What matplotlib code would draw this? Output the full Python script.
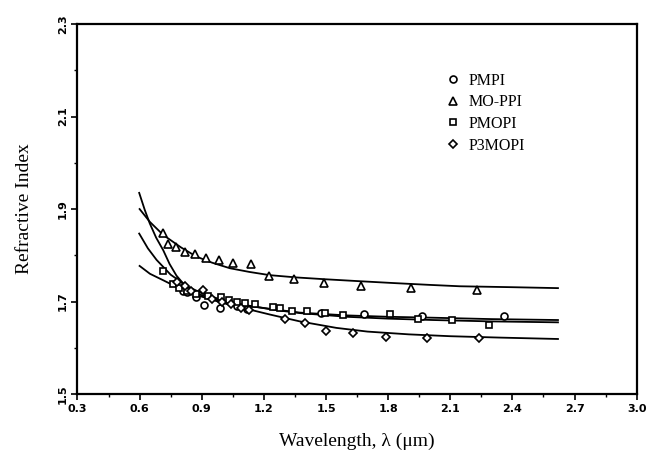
import numpy as np
import matplotlib
matplotlib.use('Agg')
import matplotlib.pyplot as plt

plt.rcParams['font.family'] = ['Liberation Serif', 'DejaVu Serif']

# ---------------- measured points ----------------
pmpi_x = [0.79, 0.81, 0.83, 0.87, 0.911, 0.987, 1.07, 1.12, 1.478, 1.682, 1.962, 2.357]
pmpi_y = [1.735, 1.723, 1.72, 1.71, 1.692, 1.687, 1.69, 1.684, 1.675, 1.672, 1.669, 1.669]

moppi_x = [0.711, 0.739, 0.777, 0.819, 0.867, 0.921, 0.985, 1.053, 1.139, 1.223,
           1.345, 1.488, 1.670, 1.910, 2.229]
moppi_y = [1.848, 1.824, 1.819, 1.807, 1.803, 1.795, 1.790, 1.784, 1.782, 1.756,
           1.748, 1.740, 1.734, 1.730, 1.725]

pmopi_x = [0.711, 0.763, 0.79, 0.83, 0.87, 0.93, 0.993, 1.03, 1.071, 1.11, 1.157,
           1.243, 1.277, 1.337, 1.408, 1.494, 1.582, 1.808, 1.944, 2.109, 2.285]
pmopi_y = [1.767, 1.738, 1.73, 1.722, 1.716, 1.712, 1.709, 1.703, 1.700, 1.696, 1.694,
           1.689, 1.686, 1.680, 1.679, 1.676, 1.671, 1.674, 1.663, 1.661, 1.650]

p3mopi_x = [0.78, 0.82, 0.85, 0.907, 0.95, 1.0, 1.04, 1.09, 1.13, 1.301, 1.397,
            1.499, 1.631, 1.788, 1.988, 2.239]
p3mopi_y = [1.742, 1.733, 1.722, 1.724, 1.706, 1.700, 1.695, 1.686, 1.681, 1.662, 1.654,
            1.637, 1.631, 1.624, 1.621, 1.622]

# ---------------- fitted curves ----------------
fit_a_x = [0.598, 0.625, 0.649, 0.68, 0.714, 0.745, 0.778, 0.82, 0.875, 0.94, 1.0, 1.1, 1.25,
           1.374, 1.6, 1.8, 2.017, 2.3, 2.62]
fit_a_y = [1.935, 1.898, 1.869, 1.838, 1.811, 1.781, 1.756, 1.734, 1.718, 1.707, 1.700, 1.692,
           1.683, 1.676, 1.670, 1.667, 1.665, 1.662, 1.660]

fit_b_x = [0.60, 0.65, 0.714, 0.80, 0.875, 0.95, 1.036, 1.13, 1.229, 1.36, 1.502, 1.66,
           1.824, 2.0, 2.146, 2.4, 2.62]
fit_b_y = [1.900, 1.872, 1.844, 1.817, 1.797, 1.784, 1.772, 1.764, 1.757, 1.752, 1.748, 1.744,
           1.740, 1.736, 1.733, 1.731, 1.729]

fit_c_x = [0.598, 0.64, 0.682, 0.75, 0.83, 0.9, 1.0, 1.1, 1.25, 1.374, 1.6, 1.8, 2.017, 2.3, 2.62]
fit_c_y = [1.847, 1.815, 1.790, 1.758, 1.733, 1.718, 1.703, 1.693, 1.682, 1.675, 1.667, 1.663,
           1.660, 1.657, 1.655]

fit_d_x = [0.60, 0.65, 0.714, 0.79, 0.875, 1.0, 1.1, 1.228, 1.374, 1.55, 1.70, 1.90, 2.1, 2.34, 2.62]
fit_d_y = [1.777, 1.760, 1.746, 1.729, 1.714, 1.697, 1.686, 1.672, 1.657, 1.643, 1.635, 1.629,
           1.625, 1.622, 1.619]

x_ticks = [0.3, 0.6, 0.9, 1.2, 1.5, 1.8, 2.1, 2.4, 2.7, 3.0]
y_ticks = [1.5, 1.7, 1.9, 2.1, 2.3]

# ---------------- plot ----------------
fig = plt.figure(figsize=(6.51, 4.63), dpi=100)
ax = fig.add_axes([0.119, 0.149, 0.859, 0.799])

for fx, fy in [(fit_a_x, fit_a_y), (fit_b_x, fit_b_y), (fit_c_x, fit_c_y), (fit_d_x, fit_d_y)]:
    ax.plot(fx, fy, color='black', lw=1.3)

ax.plot(pmpi_x, pmpi_y, marker='o', label='PMPI', ls='none', mfc='white', mec='black', mew=1.2, ms=5)
ax.plot(moppi_x, moppi_y, marker='^', label='MO-PPI', ls='none', mfc='white', mec='black', mew=1.2, ms=6)
ax.plot(pmopi_x, pmopi_y, marker='s', label='PMOPI', ls='none', mfc='white', mec='black', mew=1.2, ms=5)
ax.plot(p3mopi_x, p3mopi_y, marker='D', label='P3MOPI', ls='none', mfc='white', mec='black', mew=1.2, ms=4)

ax.set_xlim(0.3, 3.0)
ax.set_ylim(1.5, 2.3)
ax.set_xticks(x_ticks)
ax.set_yticks(y_ticks)
ax.set_xticks(np.arange(0.45, 3.0, 0.3), minor=True)
ax.set_yticks([1.6, 1.8, 2.0, 2.2], minor=True)
ax.set_xticklabels(['%.1f' % t for t in x_ticks], fontweight='bold', fontsize=8,
                   family=['Liberation Sans Narrow', 'DejaVu Sans'])
ax.set_yticklabels(['%.1f' % t for t in y_ticks], fontweight='bold', fontsize=8, rotation=90,
                   va='center', family=['Liberation Sans Narrow', 'DejaVu Sans'])
ax.tick_params(which='major', direction='out', length=4, width=1.2, pad=3)
ax.tick_params(which='minor', direction='out', length=2, width=1)
for s in ax.spines.values():
    s.set_linewidth(1.6)

ax.set_xlabel('Wavelength, λ (μm)', fontsize=14, labelpad=14)
ax.set_ylabel('Refractive Index', fontsize=14, labelpad=18)

ax.legend(loc='upper left', bbox_to_anchor=(0.645, 0.89), frameon=False, fontsize=11.5,
          handlelength=0.8, handletextpad=0.6, labelspacing=0.35, borderpad=0)

fig.savefig('out.png', dpi=100)
